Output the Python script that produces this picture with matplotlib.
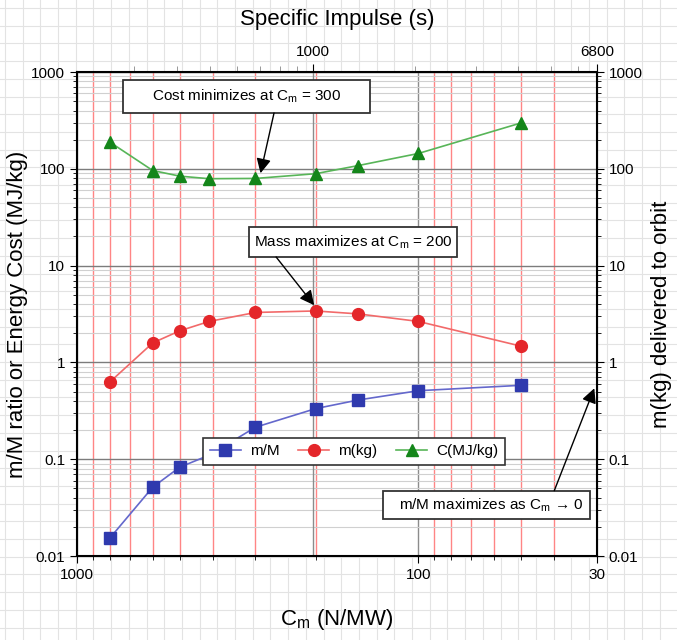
import numpy as np
import matplotlib
matplotlib.use('Agg')
import matplotlib.pyplot as plt
from matplotlib.patches import Rectangle
from matplotlib.ticker import FixedLocator, LogLocator, NullFormatter, FuncFormatter

plt.rcParams['font.family'] = ['Liberation Sans', 'DejaVu Sans']
plt.rcParams['mathtext.fontset'] = 'custom'
plt.rcParams['mathtext.rm'] = 'Liberation Sans'
plt.rcParams['mathtext.it'] = 'Liberation Sans:italic'

# data
cm = [800, 600, 500, 410, 300, 200, 150, 100, 50]            # N/MW
mass_ratio = [0.0154, 0.0514, 0.0827, 0.11, 0.214, 0.333, 0.409, 0.51, 0.58]
mass_kg = [0.63, 1.59, 2.12, 2.65, 3.28, 3.40, 3.17, 2.65, 1.47]
cost = [188, 96, 84, 79, 79.5, 89, 108, 144, 298]             # MJ/kg
isp_cm = 204000   # Isp(s) * Cm(N/MW)

x_ticks = [1000, 100, 30]
y_ticks = [0.01, 0.1, 1, 10, 100, 1000]
isp_ticks = [1000, 6800]

fmt = FuncFormatter(lambda v, p: '%g' % v)

fig = plt.figure(figsize=(6.77, 6.4), dpi=100)

# graph paper background
bg = fig.add_axes([0, 0, 1, 1], zorder=-1)
bg.set_xlim(0, 677)
bg.set_ylim(640, 0)
for gx in np.arange(4.9, 677, 17.7):
    bg.axvline(gx, color='#e3e3e3', lw=0.8)
for gy in np.arange(8.0, 640, 17.7):
    bg.axhline(gy, color='#e3e3e3', lw=0.8)
bg.axis('off')

ax = fig.add_axes([0.1137, 0.13125, 0.768, 0.75625])
ax.set_xscale('log')
ax.set_yscale('log')
ax.set_xlim(1000, 30)
ax.set_ylim(0.01, 1000)
ax.set_axisbelow(True)

ax.xaxis.set_major_locator(FixedLocator(x_ticks))
ax.xaxis.set_major_formatter(fmt)
ax.xaxis.set_minor_locator(LogLocator(base=10, subs=np.arange(2, 10), numticks=20))
ax.xaxis.set_minor_formatter(NullFormatter())
ax.yaxis.set_major_locator(FixedLocator(y_ticks))
ax.yaxis.set_major_formatter(fmt)
ax.yaxis.set_minor_locator(LogLocator(base=10, subs=np.arange(2, 10), numticks=20))
ax.yaxis.set_minor_formatter(NullFormatter())

ax.grid(True, which='minor', axis='y', color='#d0d0d0', lw=0.8)
ax.grid(True, which='major', axis='y', color='#7c7c7c', lw=1.0)
ax.grid(True, which='minor', axis='x', color='#ff8585', lw=1.0)
ax.grid(True, which='major', axis='x', color='#8c8c8c', lw=1.0)
ax.axvline(isp_cm / 1000, color='#8c8c8c', lw=1.0, zorder=0.6)

ax.tick_params(which='both', direction='out', labelsize=11)
ax.tick_params(which='major', length=5)
ax.tick_params(which='minor', length=3)
for s in ax.spines.values():
    s.set_linewidth(1.5)

ax.plot(cm, mass_ratio, color='#6468cc', lw=1.2, marker='s', ms=8,
        mfc='#2f3aae', mec='#2f3aae', label='m/M', zorder=3)
ax.plot(cm, mass_kg, color='#f26a6a', lw=1.2, marker='o', ms=8.5,
        mfc='#e4262a', mec='#e4262a', label='m(kg)', zorder=3)
ax.plot(cm, cost, color='#58b558', lw=1.2, marker='^', ms=8.5,
        mfc='#14861a', mec='#14861a', label='C(MJ/kg)', zorder=3)

leg = ax.legend(loc='center', bbox_to_anchor=(0.533, 0.216), ncol=3,
                fancybox=False, edgecolor='#333333', framealpha=1, fontsize=11,
                handlelength=2.0, handletextpad=0.6, columnspacing=1.25,
                borderpad=0.45)
leg.get_frame().set_linewidth(1.2)
leg.set_zorder(6)

ax.set_xlabel('C$_\\mathrm{m}$ (N/MW)', fontsize=16, labelpad=18)
ax.set_ylabel('m/M ratio or Energy Cost (MJ/kg)', fontsize=16, labelpad=2)

# top axis: specific impulse
secx = ax.secondary_xaxis('top', functions=(lambda c: isp_cm / np.asarray(c, float),
                                             lambda s: isp_cm / np.asarray(s, float)))
secx.xaxis.set_major_locator(FixedLocator(isp_ticks))
secx.xaxis.set_major_formatter(fmt)
secx.xaxis.set_minor_locator(LogLocator(base=10, subs=np.arange(2, 10), numticks=20))
secx.xaxis.set_minor_formatter(NullFormatter())
secx.tick_params(which='both', direction='out', labelsize=11)
secx.tick_params(which='major', length=6)
secx.tick_params(which='minor', length=4, color='#888888')
secx.set_xlabel('Specific Impulse (s)', fontsize=16, labelpad=14)

# right axis
secy = ax.secondary_yaxis('right')
secy.yaxis.set_major_locator(FixedLocator(y_ticks))
secy.yaxis.set_major_formatter(fmt)
secy.yaxis.set_minor_formatter(NullFormatter())
secy.tick_params(which='both', direction='out', labelsize=11)
secy.tick_params(which='major', length=5)
secy.tick_params(which='minor', length=3)
secy.set_ylabel('m(kg) delivered to orbit', fontsize=16, labelpad=6)

# annotation boxes
boxes = [
    ((0.0885, 0.9153), 0.475, 0.0682, (0.326, 0.949), 'Cost minimizes at C$_\\mathrm{m}$ = 300'),
    ((0.331, 0.6178), 0.400, 0.0620, (0.531, 0.649), 'Mass maximizes at C$_\\mathrm{m}$ = 200'),
    ((0.5885, 0.0758), 0.398, 0.0592, (0.796, 0.105), 'm/M maximizes as C$_\\mathrm{m}$ \u2192 0'),
]
for (x0, y0), w, h, (tx, ty), txt in boxes:
    ax.add_patch(Rectangle((x0, y0), w, h, transform=ax.transAxes, facecolor='white',
                           edgecolor='#333333', lw=1.3, zorder=5))
    ax.text(tx, ty, txt, transform=ax.transAxes, ha='center', va='center',
            fontsize=11, zorder=6)

arrow = dict(arrowstyle='-|>', color='black', lw=1.0, mutation_scale=22,
             shrinkA=0, shrinkB=0)
ax.annotate('', xy=(290, 90), xycoords='data', xytext=(0.379, 0.9153),
            textcoords='axes fraction', arrowprops=arrow, zorder=6)
ax.annotate('', xy=(202, 3.9), xycoords='data', xytext=(0.383, 0.6178),
            textcoords='axes fraction', arrowprops=arrow, zorder=6)
ax.annotate('', xy=(0.995, 0.3465), xycoords='axes fraction', xytext=(0.918, 0.135),
            textcoords='axes fraction', arrowprops=arrow, zorder=6)

fig.savefig('out.png', dpi=100)
